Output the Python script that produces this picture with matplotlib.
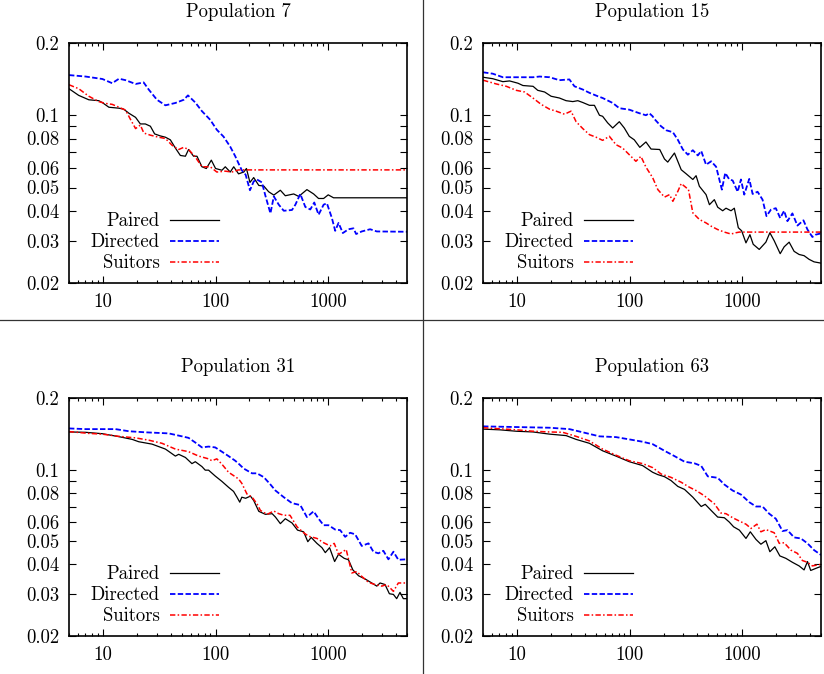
import matplotlib
matplotlib.use("Agg")
import matplotlib.pyplot as plt
from matplotlib.lines import Line2D
from matplotlib.ticker import LogLocator, NullFormatter, NullLocator

plt.rcParams["font.family"] = "serif"
plt.rcParams["font.serif"] = ["cmr10"]
plt.rcParams["axes.formatter.use_mathtext"] = True
plt.rcParams["font.size"] = 13.5

# ---- data ----
p7_paired_x = [5, 6.1, 7.5, 9.2, 10, 11.3, 13.9, 15.3, 17, 19.5, 21.5, 23.8, 26.4, 28.8, 32.4, 35.9, 39.7, 44, 48.7,
               54, 57.6, 63.8, 68.4, 75.7, 82.8, 91.7, 100, 114, 122, 135, 145, 160, 178, 188, 202, 218, 242, 268,
               296, 329, 376, 416, 494, 547, 647, 742, 821, 910, 1000, 1115, 5000]
p7_paired_y = [0.129, 0.121, 0.116, 0.115, 0.1125, 0.108, 0.107, 0.106, 0.102, 0.098, 0.092, 0.092, 0.090, 0.0836,
               0.082, 0.081, 0.079, 0.073, 0.068, 0.0675, 0.072, 0.0675, 0.0675, 0.061, 0.060, 0.065, 0.060, 0.059,
               0.061, 0.058, 0.061, 0.057, 0.058, 0.060, 0.0525, 0.055, 0.051, 0.0507, 0.048, 0.0465, 0.0487, 0.0462,
               0.047, 0.0459, 0.049, 0.047, 0.045, 0.045, 0.0466, 0.0453, 0.0453]
p7_directed_x = [5, 7.0, 9.9, 12.1, 13.9, 15.9, 19.5, 23, 25.5, 30.2, 35.9, 44, 52.2, 56.9, 66.1, 75.7, 89.7, 102.6,
                 117.6, 134.9, 149.5, 160, 171, 185, 202, 218, 233, 258, 277, 307, 329, 364, 403, 477, 511, 565, 626,
                 693, 752, 821, 910, 973, 1078, 1153, 1235, 1348, 1513, 1675, 1769, 1984, 2353, 2700, 5000]
p7_directed_y = [0.147, 0.145, 0.1416, 0.136, 0.142, 0.14, 0.135, 0.137, 0.128, 0.116, 0.110, 0.1125, 0.116, 0.121,
                 0.113, 0.104, 0.0957, 0.087, 0.0815, 0.074, 0.0675, 0.063, 0.059, 0.0565, 0.0487, 0.053, 0.054,
                 0.0525, 0.0462, 0.039, 0.0459, 0.0424, 0.040, 0.0403, 0.0424, 0.047, 0.0415, 0.0405, 0.0433, 0.0385,
                 0.0424, 0.043, 0.0373, 0.033, 0.0356, 0.0323, 0.0335, 0.0338, 0.032, 0.0328, 0.0335, 0.0328, 0.0327]
p7_suitors_x = [5, 6.1, 7.5, 9.2, 10.6, 12.1, 13.9, 15.9, 17.6, 19.5, 21.5, 23.1, 26.4, 31.3, 35.9, 41.1, 47.1, 52.2,
                57.6, 66.1, 75.7, 89.7, 102.6, 121.8, 139.6, 160, 5000]
p7_suitors_y = [0.134, 0.129, 0.120, 0.114, 0.112, 0.111, 0.108, 0.105, 0.096, 0.088, 0.091, 0.0843, 0.0826, 0.081,
                0.080, 0.075, 0.072, 0.0735, 0.072, 0.067, 0.061, 0.061, 0.058, 0.0585, 0.058, 0.0592, 0.0592]

p15_paired_x = [5, 6.1, 7.5, 8.6, 10.2, 11.3, 13.9, 15.3, 17.6, 20.1, 23.8, 27.3, 31.3, 34.7, 38.4, 44, 48.7, 54,
                57.6, 63.8, 70.8, 81, 89.7, 99.3, 110, 123.2, 139.6, 155, 185, 204, 218, 250, 287, 318, 364, 389, 416,
                477, 511, 565, 605, 670, 717, 794, 850, 922, 987, 1078, 1169, 1250, 1414, 1620, 1757, 1920, 2170,
                2353, 2606, 2884, 3193, 3536, 3917, 4337, 5000]
p15_paired_y = [0.144, 0.142, 0.138, 0.139, 0.136, 0.133, 0.132, 0.127, 0.125, 0.120, 0.118, 0.115, 0.114, 0.115,
                0.113, 0.110, 0.110, 0.100, 0.099, 0.093, 0.0885, 0.094, 0.0885, 0.0817, 0.079, 0.0735, 0.0774,
                0.0723, 0.072, 0.0657, 0.0638, 0.0696, 0.0593, 0.057, 0.054, 0.056, 0.0506, 0.0467, 0.0424, 0.0445,
                0.0414, 0.040, 0.041, 0.040, 0.041, 0.034, 0.033, 0.0294, 0.0318, 0.029, 0.0276, 0.0296, 0.0324,
                0.030, 0.0265, 0.0283, 0.0296, 0.0271, 0.0263, 0.026, 0.0251, 0.0245, 0.0242]
p15_directed_x = [5, 6.1, 7.5, 10.2, 13.9, 15.9, 19.5, 23.8, 29.2, 32.4, 38.4, 44, 52.2, 57.6, 70.8, 81, 99.3, 121.8,
                  139.6, 149.5, 160, 166, 190, 211, 242, 268, 297, 329, 364, 403, 432, 477, 529, 586, 659, 706, 767,
                  821, 910, 973, 1041, 1153, 1235, 1367, 1513, 1640, 1794, 1984, 2170, 2353, 2516, 2785, 3086, 3490,
                  3790, 4190, 4480, 5000]
p15_directed_y = [0.151, 0.149, 0.144, 0.144, 0.144, 0.145, 0.144, 0.140, 0.141, 0.132, 0.128, 0.124, 0.120, 0.118,
                  0.1125, 0.107, 0.1055, 0.102, 0.100, 0.102, 0.099, 0.0965, 0.090, 0.0866, 0.085, 0.079, 0.072,
                  0.0685, 0.0715, 0.068, 0.071, 0.0622, 0.0643, 0.061, 0.049, 0.0575, 0.054, 0.0535, 0.048, 0.054,
                  0.0467, 0.0543, 0.047, 0.048, 0.0445, 0.038, 0.0404, 0.041, 0.0373, 0.040, 0.0362, 0.039, 0.0347,
                  0.0365, 0.0334, 0.0311, 0.0318, 0.0322]
p15_suitors_x = [5, 6.56, 8.05, 9.87, 11.69, 13.86, 16.4, 19.46, 22.3, 26.4, 30.2, 33.5, 38.4, 44, 50.4, 57.6, 66.1,
                 75.7, 86.7, 99.3, 113.7, 126, 139.6, 160, 178, 204, 226, 242, 268, 287, 307, 333, 364, 416, 477, 529,
                 605, 693, 794, 880, 942, 5000]
p15_suitors_y = [0.140, 0.135, 0.132, 0.127, 0.125, 0.118, 0.111, 0.106, 0.104, 0.101, 0.104, 0.094, 0.088, 0.083,
                 0.081, 0.0786, 0.0817, 0.0754, 0.073, 0.0685, 0.0643, 0.0674, 0.0608, 0.055, 0.049, 0.0456, 0.0467,
                 0.0438, 0.0482, 0.0519, 0.0506, 0.049, 0.0392, 0.0368, 0.0356, 0.0345, 0.0334, 0.0326, 0.032,
                 0.0324, 0.0326, 0.0326]

p31_paired_x = [5, 7.02, 9.87, 13.86, 18.2, 20.8, 27.3, 35.9, 39.7, 44, 47.1, 54, 61.7, 66.1, 75.7, 81, 86.7, 99.3,
                113.7, 130.4, 144.5, 155, 164, 171, 185, 204, 218, 242, 277, 318, 340, 376, 416, 477, 534, 605, 659,
                706, 794, 880, 942, 1028, 1140, 1235, 1385, 1513, 1655, 1861, 2130, 2435, 2700, 2884, 3193, 3490,
                3790, 4050, 4337, 4640, 5000]
p31_paired_y = [0.144, 0.1435, 0.1416, 0.1376, 0.134, 0.131, 0.128, 0.122, 0.118, 0.114, 0.116, 0.1125, 0.106, 0.108,
                0.103, 0.0995, 0.0995, 0.094, 0.0893, 0.0843, 0.081, 0.0766, 0.073, 0.0766, 0.0758, 0.0774, 0.0742,
                0.0668, 0.0649, 0.0653, 0.0632, 0.0593, 0.0622, 0.0597, 0.0557, 0.0548, 0.0498, 0.0519, 0.049, 0.047,
                0.0448, 0.047, 0.0411, 0.0441, 0.0424, 0.0418, 0.0379, 0.0358, 0.0347, 0.0334, 0.0324, 0.0334,
                0.0329, 0.0301, 0.0299, 0.0287, 0.0305, 0.0287, 0.0287]
p31_directed_x = [5, 7.02, 9.87, 12.94, 16.98, 23.8, 38.4, 50.4, 57.6, 66.1, 75.7, 86.7, 99.3, 113.7, 130.4, 149.5,
                  160, 178, 211, 233, 268, 307, 340, 403, 477, 565, 647, 742, 821, 910, 1007, 1153, 1276, 1414, 1565,
                  1733, 1984, 2278, 2516, 2785, 3086, 3420, 3790, 4190, 5000]
p31_directed_y = [0.149, 0.148, 0.148, 0.148, 0.145, 0.1435, 0.142, 0.138, 0.136, 0.130, 0.124, 0.125, 0.124, 0.119,
                  0.114, 0.109, 0.106, 0.101, 0.0965, 0.0965, 0.093, 0.0866, 0.0817, 0.0766, 0.0723, 0.071, 0.0632,
                  0.0668, 0.0622, 0.0584, 0.0584, 0.056, 0.0557, 0.0522, 0.0543, 0.0535, 0.0478, 0.049, 0.0452,
                  0.0445, 0.0456, 0.042, 0.0452, 0.0418, 0.042]
p31_suitors_x = [5, 7.52, 9.87, 13.86, 19.46, 25.5, 33.5, 44, 57.6, 70.8, 86.7, 92.8, 102.6, 113.7, 130.4, 149.5, 160,
                 171, 190, 211, 233, 250, 287, 329, 364, 403, 458, 529, 605, 670, 794, 910, 1041, 1130, 1235, 1348,
                 1443, 1620, 1794, 1984, 2278, 2606, 2991, 3310, 3790, 4190, 5000]
p31_suitors_y = [0.1445, 0.142, 0.141, 0.138, 0.136, 0.133, 0.129, 0.122, 0.119, 0.114, 0.111, 0.109, 0.111, 0.1055,
                 0.0975, 0.0934, 0.0914, 0.0876, 0.079, 0.0766, 0.0719, 0.0674, 0.0649, 0.067, 0.0653, 0.0643,
                 0.0643, 0.0575, 0.0543, 0.0525, 0.0514, 0.0493, 0.0478, 0.049, 0.0441, 0.0452, 0.0462, 0.0368,
                 0.0373, 0.0356, 0.0336, 0.0329, 0.0324, 0.0329, 0.0308, 0.0334, 0.0334]

p63_paired_x = [5, 7.02, 9.87, 13.86, 19.46, 27.3, 33.5, 44, 57.6, 75.7, 99.3, 130.4, 160, 178, 204, 233, 268, 307,
                364, 432, 469, 529, 605, 693, 767, 838, 942, 1078, 1178, 1323, 1463, 1620, 1757, 1945, 2155, 2435,
                2785, 3193, 3536, 3790, 4050, 4640, 5000]
p63_paired_y = [0.148, 0.147, 0.145, 0.144, 0.141, 0.139, 0.134, 0.129, 0.120, 0.114, 0.108, 0.104, 0.0975, 0.0953,
                0.0934, 0.090, 0.085, 0.0826, 0.0766, 0.070, 0.0715, 0.0674, 0.0632, 0.0628, 0.0602, 0.0575, 0.0557,
                0.0514, 0.0548, 0.0509, 0.0486, 0.0503, 0.0452, 0.0474, 0.0434, 0.0424, 0.0408, 0.0394, 0.0379,
                0.0411, 0.0377, 0.0387, 0.0392]
p63_directed_x = [5, 9.87, 19.46, 29.2, 38.4, 54, 75.7, 99.3, 130.4, 160, 204, 250, 307, 376, 432, 494, 605, 693, 821,
                  973, 1153, 1323, 1513, 1733, 1984, 2278, 2516, 2884, 3310, 3790, 4337, 5000]
p63_directed_y = [0.152, 0.151, 0.150, 0.148, 0.1435, 0.138, 0.137, 0.134, 0.131, 0.128, 0.120, 0.114, 0.108, 0.1063,
                  0.1037, 0.0937, 0.0924, 0.0866, 0.0817, 0.0786, 0.073, 0.070, 0.070, 0.0653, 0.0622, 0.0552,
                  0.0557, 0.0519, 0.0514, 0.049, 0.0459, 0.0438]
p63_suitors_x = [5, 9.87, 13.86, 19.46, 25.5, 33.5, 44, 57.6, 75.7, 99.3, 130.4, 160, 190, 233, 287, 340, 389, 458,
                 565, 647, 717, 821, 942, 1078, 1196, 1348, 1463, 1620, 1920, 2130, 2353, 2700, 3086, 3420, 3790,
                 4190, 5000]
p63_suitors_y = [0.150, 0.147, 0.145, 0.144, 0.1435, 0.138, 0.132, 0.122, 0.115, 0.109, 0.106, 0.102, 0.0959, 0.0928,
                 0.0885, 0.0843, 0.0817, 0.0778, 0.0719, 0.0657, 0.0653, 0.0628, 0.0608, 0.059, 0.0566, 0.059,
                 0.0548, 0.056, 0.0543, 0.049, 0.0493, 0.0459, 0.0445, 0.0415, 0.0408, 0.0394, 0.040]

titles = ["Population 7", "Population 15", "Population 31", "Population 63"]
series_names = ["Paired", "Directed", "Suitors"]
x_ticks = [10, 100, 1000]
x_labels = ["10", "100", "1000"]
y_ticks = [0.02, 0.03, 0.04, 0.05, 0.06, 0.07, 0.08, 0.09, 0.1, 0.2]
y_labels = ["0.02", "0.03", "0.04", "0.05", "0.06", "", "0.08", "", "0.1", "0.2"]

panels = [
    [(p7_paired_x, p7_paired_y), (p7_directed_x, p7_directed_y), (p7_suitors_x, p7_suitors_y)],
    [(p15_paired_x, p15_paired_y), (p15_directed_x, p15_directed_y), (p15_suitors_x, p15_suitors_y)],
    [(p31_paired_x, p31_paired_y), (p31_directed_x, p31_directed_y), (p31_suitors_x, p31_suitors_y)],
    [(p63_paired_x, p63_paired_y), (p63_directed_x, p63_directed_y), (p63_suitors_x, p63_suitors_y)],
]

styles = [
    dict(color="black", lw=0.9, linestyle="-"),
    dict(color="#0000ff", lw=1.3, linestyle=(0, (3.0, 1.3))),
    dict(color="#ff0000", lw=1.1, linestyle=(0, (3.5, 1.5, 1.0, 1.5))),
]

# axes rectangles in figure fraction: left, bottom, width, height
rects = [
    (0.0837, 0.5801, 0.4102, 0.3561),
    (0.5862, 0.5801, 0.4102, 0.3561),
    (0.0837, 0.0564, 0.4102, 0.3531),
    (0.5862, 0.0564, 0.4102, 0.3531),
]

fig = plt.figure(figsize=(8.24, 6.74), dpi=100)

for rect, title, data in zip(rects, titles, panels):
    ax = fig.add_axes(rect)
    for (xs, ys), name, st in zip(data, series_names, styles):
        ax.plot(xs, ys, label=name, **st)
    ax.set_xscale("log")
    ax.set_yscale("log")
    ax.set_xlim(5, 5000)
    ax.set_ylim(0.02, 0.2)
    ax.set_xticks(x_ticks)
    ax.set_xticklabels(x_labels)
    ax.xaxis.set_minor_locator(LogLocator(base=10, subs=range(2, 10)))
    ax.xaxis.set_minor_formatter(NullFormatter())
    ax.set_yticks(y_ticks)
    ax.set_yticklabels(y_labels)
    ax.yaxis.set_minor_locator(NullLocator())
    ax.tick_params(which="both", direction="in", top=True, right=True, width=0.8)
    ax.tick_params(which="major", length=5, pad=7)
    ax.tick_params(which="minor", length=2.5)
    for sp in ax.spines.values():
        sp.set_linewidth(1.2)
    ax.set_title(title, pad=18.5, fontsize=13.5)
    ax.legend(loc="lower right", bbox_to_anchor=(0.444, 0.045), frameon=False, markerfirst=False,
              handlelength=2.6, handletextpad=0.55, labelspacing=0.16, borderpad=0, borderaxespad=0)

# divider lines between the panels
fig.add_artist(Line2D([0.5133, 0.5133], [0, 1], color="#333333", lw=0.9))
fig.add_artist(Line2D([0, 1], [0.5252, 0.5252], color="#333333", lw=0.9))

fig.savefig("out.png", dpi=100)
